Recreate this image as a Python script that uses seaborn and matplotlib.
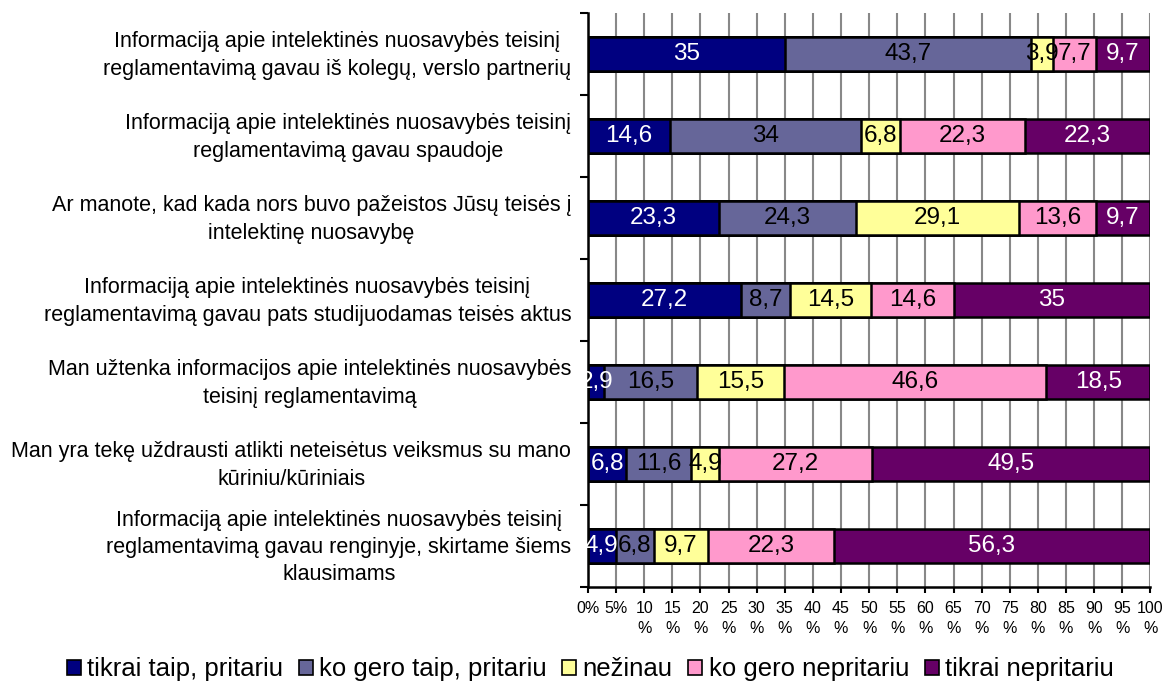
import numpy as np
import pandas as pd
import matplotlib
matplotlib.use("Agg")
import matplotlib.pyplot as plt
import seaborn as sns
from matplotlib.patches import Patch
from matplotlib.transforms import ScaledTranslation

questions = [
    "Informaciją apie intelektinės nuosavybės teisinį\nreglamentavimą gavau iš kolegų, verslo partnerių",
    "Informaciją apie intelektinės nuosavybės teisinį\nreglamentavimą gavau spaudoje",
    "Ar manote, kad kada nors buvo pažeistos Jūsų teisės į\nintelektinę nuosavybę",
    "Informaciją apie intelektinės nuosavybės teisinį\nreglamentavimą gavau pats studijuodamas teisės aktus",
    "Man užtenka informacijos apie intelektinės nuosavybės\nteisinį reglamentavimą",
    "Man yra tekę uždrausti atlikti neteisėtus veiksmus su mano\nkūriniu/kūriniais",
    "Informaciją apie intelektinės nuosavybės teisinį\nreglamentavimą gavau renginyje, skirtame šiems\nklausimams",
]
answers = ["tikrai taip, pritariu", "ko gero taip, pritariu", "nežinau",
           "ko gero nepritariu", "tikrai nepritariu"]

tikrai_taip = [35, 14.6, 23.3, 27.2, 2.9, 6.8, 4.9]
ko_gero_taip = [43.7, 34, 24.3, 8.7, 16.5, 11.6, 6.8]
nezinau = [3.9, 6.8, 29.1, 14.5, 15.5, 4.9, 9.7]
ko_gero_ne = [7.7, 22.3, 13.6, 14.6, 46.6, 27.2, 22.3]
tikrai_ne = [9.7, 22.3, 9.7, 35, 18.5, 49.5, 56.3]

colors = ["#000080", "#666699", "#FFFF99", "#FF99CC", "#660066"]
text_colors = ["white", "black", "black", "black", "white"]

series = [tikrai_taip, ko_gero_taip, nezinau, ko_gero_ne, tikrai_ne]
vals = np.array(series)
cum = np.cumsum(vals, axis=0)

df = pd.DataFrame({"klausimas": questions})
for i, a in enumerate(answers):
    df[a] = cum[i]

plt.rcParams["font.family"] = ["Liberation Sans", "DejaVu Sans"]
fig = plt.figure(figsize=(11.62, 6.81), dpi=100)
ax = fig.add_axes([0.506, 0.138, 0.484, 0.843])

# stacked bars: draw cumulative totals from the longest to the shortest
for i in range(len(answers) - 1, -1, -1):
    sns.barplot(data=df, x=answers[i], y="klausimas", order=questions,
                color=colors[i], saturation=1, width=0.41,
                edgecolor="black", linewidth=1.8, ax=ax, zorder=2)

# value labels in the middle of every segment
for i in range(len(answers)):
    for j in range(len(questions)):
        v = vals[i, j]
        ax.text(cum[i, j] - v / 2, j, f"{v:g}".replace(".", ","),
                ha="center", va="center", fontsize=17.5,
                color=text_colors[i], zorder=3)

ax.set_xlim(0, 100)
ax.set_ylim(len(questions) - 0.5, -0.5)
xt = np.arange(0, 101, 5)
ax.set_xticks(xt)
ax.set_xticklabels([f"{t}%" if t < 10 else f"{t}\n%" for t in xt], fontsize=11.5,
                   linespacing=1.45)
ax.grid(axis="x", color="#888888", linewidth=1.5, zorder=0)
ax.set_axisbelow(True)
ax.tick_params(axis="x", direction="out", length=4, width=1.5, pad=6)

ax.set_yticks(range(len(questions)))
ax.set_yticklabels(questions, fontsize=15.5, ha="right", multialignment="center",
                   linespacing=1.4)
ax.tick_params(axis="y", which="major", length=0, pad=12)
ax.set_yticks(np.arange(-0.5, len(questions), 1), minor=True)
ax.tick_params(axis="y", which="minor", length=6, width=1.5)
# labels sit a few pixels above the bar centre in the original
shift = ScaledTranslation(0, 3 / 72, fig.dpi_scale_trans)
for lab in ax.get_yticklabels():
    lab.set_transform(lab.get_transform() + shift)

ax.set_xlabel("")
ax.set_ylabel("")
for s in ["top", "right"]:
    ax.spines[s].set_visible(False)
for s in ["left", "bottom"]:
    ax.spines[s].set_linewidth(1.8)
    ax.spines[s].set_color("black")

handles = [Patch(facecolor=c, edgecolor="black", linewidth=1.2) for c in colors]
fig.legend(handles, answers, loc="center", bbox_to_anchor=(0.508, 0.017), ncol=5,
           frameon=False, fontsize=18.5, handlelength=0.55, handleheight=0.55,
           handletextpad=0.25, columnspacing=0.6)

fig.savefig("out.png", dpi=100)
